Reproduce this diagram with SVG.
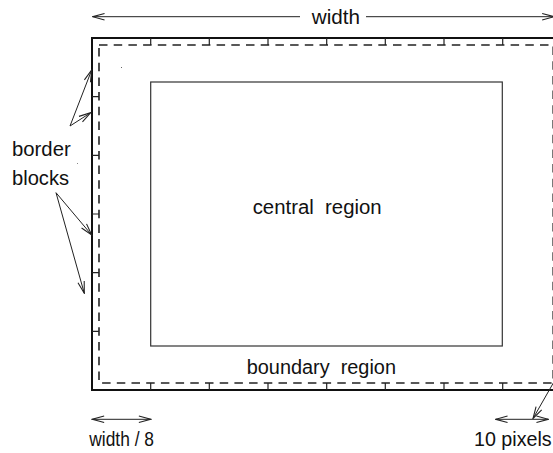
<svg xmlns="http://www.w3.org/2000/svg" width="553" height="453" viewBox="0 0 553 453">
<style>
  text { font-family: "Liberation Sans", Arial, sans-serif; font-size: 19.5px; fill: #111; white-space: pre; }
  .outer { fill: none; stroke: #111; stroke-width: 2; }
  .dash { fill: none; stroke: #222; stroke-width: 1.6; stroke-dasharray: 8.5 6.2; }
  .tick { stroke: #222; stroke-width: 1.2; }
  .central { fill: none; stroke: #333; stroke-width: 1.2; }
  .arr { fill: none; stroke: #222; stroke-width: 1; }
</style>
<defs>
  <marker id="ah" markerUnits="userSpaceOnUse" markerWidth="14" markerHeight="10" viewBox="-12 -4 13 8" refX="0" refY="0" orient="auto-start-reverse">
    <path d="M-11,-3 L0,0 L-11,3" fill="none" stroke="#222" stroke-width="1"/>
  </marker>
</defs>

<g id="frame">
  <rect class="outer" x="92" y="38" width="469.3" height="352"/>
  <rect class="dash" x="99" y="45" width="454.2" height="338"/>
  <g id="ticks">
    <path class="tick" d="M150.7,38v7M209.3,38v7M268,38v7M326.7,38v7M385.3,38v7M444,38v7M502.7,38v7"/>
    <path class="tick" d="M150.7,390v-7M209.3,390v-7M268,390v-7M326.7,390v-7M385.3,390v-7M444,390v-7M502.7,390v-7"/>
    <path class="tick" d="M92,96.7h7M92,155.3h7M92,214h7M92,272.7h7M92,331.3h7"/>
  </g>
  <rect x="121" y="67" width="1" height="1" fill="#666"/>
  <rect x="77" y="163" width="1" height="1" fill="#888"/>
</g>

<g id="central-region">
  <rect class="central" x="150.7" y="82" width="351.6" height="264"/>
  <text x="252.7" y="214.3" textLength="129" lengthAdjust="spacingAndGlyphs" xml:space="preserve">central  region</text>
</g>

<g id="boundary-region">
  <text x="246.7" y="374.3" textLength="149.3" lengthAdjust="spacingAndGlyphs" xml:space="preserve">boundary  region</text>
</g>

<g id="width-label">
  <text x="311.7" y="23.5" textLength="48.3" lengthAdjust="spacingAndGlyphs">width</text>
</g>

<g id="border-blocks-label">
  <text x="12" y="156" textLength="58.7" lengthAdjust="spacingAndGlyphs">border</text>
  <text x="12" y="185" textLength="57" lengthAdjust="spacingAndGlyphs">blocks</text>
</g>

<g id="width8-label">
  <text x="89.3" y="446" textLength="64.7" lengthAdjust="spacingAndGlyphs">width / 8</text>
</g>

<g id="pixels-label">
  <text x="474" y="446" textLength="77.7" lengthAdjust="spacingAndGlyphs">10 pixels</text>
</g>

<g id="connectors">
  <line class="arr" x1="300" y1="16.7" x2="92.7" y2="16.7" marker-end="url(#ah)"/>
  <line class="arr" x1="366" y1="16.7" x2="554" y2="16.7" marker-end="url(#ah)"/>
  <line class="arr" x1="70" y1="126" x2="91.7" y2="70" marker-end="url(#ah)"/>
  <line class="arr" x1="70" y1="126" x2="90.7" y2="112.7" marker-end="url(#ah)"/>
  <line class="arr" x1="56" y1="192.7" x2="91.7" y2="235" marker-end="url(#ah)"/>
  <line class="arr" x1="56" y1="192.7" x2="84.3" y2="293.3" marker-end="url(#ah)"/>
  <line class="arr" x1="92.3" y1="419.3" x2="150.7" y2="419.3" marker-start="url(#ah)" marker-end="url(#ah)"/>
  <line class="arr" x1="495.7" y1="419.3" x2="548.3" y2="419.3" marker-start="url(#ah)" marker-end="url(#ah)"/>
  <line class="arr" x1="555" y1="380" x2="533" y2="418.5" marker-end="url(#ah)"/>
</g>
</svg>
